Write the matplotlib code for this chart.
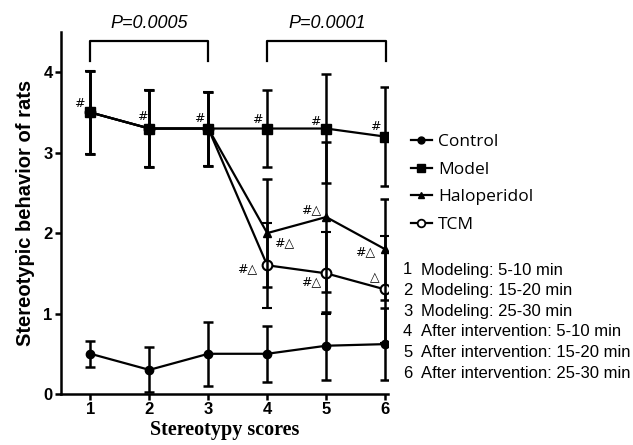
import matplotlib
matplotlib.use("Agg")
import matplotlib.pyplot as plt
from matplotlib.lines import Line2D

# ---- data ----
x = [1, 2, 3, 4, 5, 6]
control = [0.5, 0.3, 0.5, 0.5, 0.6, 0.62]
control_err = [0.16, 0.28, 0.40, 0.35, 0.42, 0.45]
model = [3.5, 3.3, 3.3, 3.3, 3.3, 3.2]
model_err = [0.52, 0.48, 0.46, 0.48, 0.68, 0.62]
halo = [3.5, 3.3, 3.3, 2.0, 2.2, 1.8]
halo_err = [0.52, 0.48, 0.46, 0.67, 0.93, 0.63]
tcm = [3.5, 3.3, 3.3, 1.6, 1.5, 1.3]
tcm_err = [0.52, 0.48, 0.46, 0.53, 0.51, 0.67]
series_names = ["Control", "Model", "Haloperidol", "TCM"]
yticks = [0, 1, 2, 3, 4]
period_numbers = ["1", "2", "3", "4", "5", "6"]
period_labels = ["Modeling: 5-10 min", "Modeling: 15-20 min", "Modeling: 25-30 min",
                 "After intervention: 5-10 min", "After intervention: 15-20 min",
                 "After intervention: 25-30 min"]
p_texts = ["P=0.0005", "P=0.0001"]
model_marks = ["#"] * 6
halo_marks = {4: "#\u25b3", 5: "#\u25b3", 6: "#\u25b3"}
tcm_marks = {4: "#\u25b3", 5: "#\u25b3", 6: "\u25b3"}

W, H = 633, 445
fig = plt.figure(figsize=(W / 100, H / 100), dpi=100)
ax = fig.add_axes([61 / W, 1 - 394 / H, (388 - 61) / W, (394 - 32) / H])
ax.set_xlim(0.5, 6.05)
ax.set_ylim(0, 4.5)

lw = 1.6
ekw = dict(color="black", elinewidth=1.8, capsize=3.8, capthick=1.8, lw=lw)
ax.errorbar(x, tcm, yerr=tcm_err, marker="o", ms=7, mfc="white", mec="black", mew=1.5, zorder=3, **ekw)
ax.errorbar(x, halo, yerr=halo_err, marker="^", ms=5.5, mfc="black", mec="black", zorder=4, **ekw)
ax.errorbar(x, control, yerr=control_err, marker="o", ms=6, mfc="black", mec="black", zorder=4, **ekw)
ax.errorbar(x, model, yerr=model_err, marker="s", ms=6.5, mfc="black", mec="black", zorder=5, **ekw)

# spines
for s in ["top", "right"]:
    ax.spines[s].set_visible(False)
for s in ["left", "bottom"]:
    ax.spines[s].set_linewidth(1.8)
ax.tick_params(direction="out", length=4, width=1.8, pad=2)
ax.set_xticks(x)
ax.set_xticklabels([str(v) for v in x], fontfamily="Liberation Sans", fontweight="bold", fontsize=12)
ax.set_yticks(yticks)
ax.set_yticklabels([str(v) for v in yticks], fontfamily="Liberation Sans", fontweight="bold", fontsize=12)

ax.set_ylabel("Stereotypic behavior of rats", fontfamily="Liberation Sans", fontweight="bold",
              fontsize=14.5, labelpad=6)
ax.set_xlabel("Stereotypy scores", fontfamily="Liberation Serif", fontweight="bold",
              fontsize=14.5, labelpad=2)

# annotations
mk = dict(fontsize=9, ha="center", va="center", fontfamily="DejaVu Sans")
model_offsets = [(-0.19, 0.11), (-0.12, 0.15), (-0.16, 0.13), (-0.17, 0.11), (-0.18, 0.09), (-0.17, 0.13)]
for xi, yi, m, (dx, dy) in zip(x, model, model_marks, model_offsets):
    ax.text(xi + dx, yi + dy, m, **mk)
halo_off = {4: (0.28, -0.12), 5: (-0.25, 0.09), 6: (-0.34, -0.03)}
for k, t in halo_marks.items():
    dx, dy = halo_off[k]
    ax.text(k + dx, halo[k - 1] + dy, t, **mk)
tcm_off = {4: (-0.34, -0.04), 5: (-0.26, -0.10), 6: (-0.17, 0.15)}
for k, t in tcm_marks.items():
    dx, dy = tcm_off[k]
    ax.text(k + dx, tcm[k - 1] + dy, t, **mk)

# significance brackets
brackets = [(1, 3), (4, 6.02)]
for (a, b), pt in zip(brackets, p_texts):
    ax.plot([a, a, b, b], [4.14, 4.39, 4.39, 4.14], color="black", lw=1.6, clip_on=False)
    ax.text((a + b) / 2, 4.6, pt, fontsize=13, style="italic", ha="center", va="center",
            fontfamily="Liberation Sans")

# legend
handles = [
    Line2D([], [], color="black", lw=lw, marker="o", ms=5, mfc="black"),
    Line2D([], [], color="black", lw=lw, marker="s", ms=5.5, mfc="black"),
    Line2D([], [], color="black", lw=lw, marker="^", ms=5, mfc="black"),
    Line2D([], [], color="black", lw=lw, marker="o", ms=5.5, mfc="white", mew=1.3),
]
fig.legend(handles, series_names, loc="upper left", bbox_to_anchor=(411 / W, 1 - 134 / H),
           frameon=False, prop={"family": "Open Sans", "size": 12.5}, handlelength=1.2,
           handletextpad=0.35, labelspacing=0.66, borderaxespad=0, borderpad=0)

# numbered period list
for i, (n, lab) in enumerate(zip(period_numbers, period_labels)):
    yy = 1 - (270 + i * 20.6) / H
    fig.text(403 / W, yy, n, fontsize=12, fontfamily="Liberation Sans", va="center", ha="left")
    fig.text(421 / W, yy, lab, fontsize=12, fontfamily="Liberation Sans", va="center", ha="left")

fig.savefig("out.png", dpi=100)
